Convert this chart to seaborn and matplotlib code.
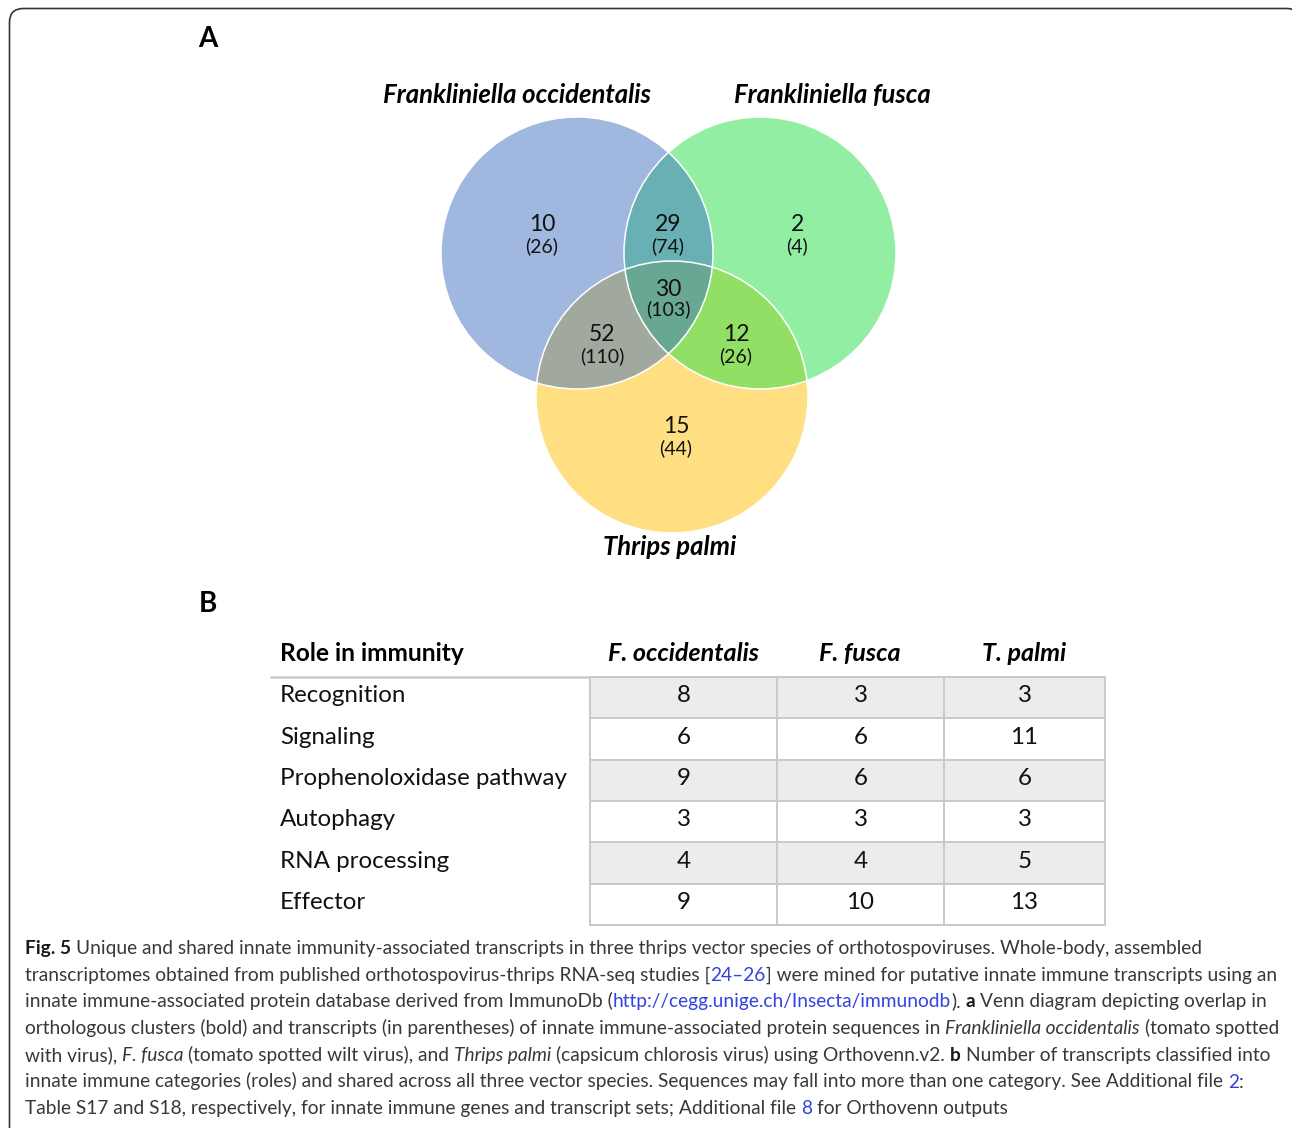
import numpy as np
import matplotlib
matplotlib.use('Agg')
import matplotlib.pyplot as plt
import seaborn as sns
from matplotlib import font_manager
from matplotlib.patches import Circle, Polygon, FancyBboxPatch, Rectangle
from matplotlib.colors import ListedColormap

# ---- venn data (A) ----
set_names = ['Frankliniella occidentalis', 'Frankliniella fusca', 'Thrips palmi']
region_sets = [(0,), (0, 1), (1,), (0, 1, 2), (0, 2), (1, 2), (2,)]
cluster_counts = [10, 29, 2, 30, 52, 12, 15]
transcript_counts = [26, 74, 4, 103, 110, 26, 44]

# ---- table data (B) ----
roles = ['Recognition', 'Signaling', 'Prophenoloxidase pathway', 'Autophagy',
         'RNA processing', 'Effector']
species_short = ['F. occidentalis', 'F. fusca', 'T. palmi']
f_occidentalis = [8, 6, 9, 3, 4, 9]
f_fusca = [3, 6, 6, 3, 4, 10]
t_palmi = [3, 11, 6, 3, 5, 13]

# ---- caption ----
caption_lines = [
    [('Fig. 5', 'b'), (' Unique and shared innate immunity-associated transcripts in three thrips vector species of orthotospoviruses. Whole-body, assembled', 'n')],
    [('transcriptomes obtained from published orthotospovirus-thrips RNA-seq studies [', 'n'), ('24–26', 'l'), ('] were mined for putative innate immune transcripts using an', 'n')],
    [('innate immune-associated protein database derived from ImmunoDb (', 'n'), ('http://cegg.unige.ch/Insecta/immunodb', 'l'), ('). ', 'n'), ('a', 'b'), (' Venn diagram depicting overlap in', 'n')],
    [('orthologous clusters (bold) and transcripts (in parentheses) of innate immune-associated protein sequences in ', 'n'), ('Frankliniella occidentalis', 'i'), (' (tomato spotted', 'n')],
    [('with virus), ', 'n'), ('F. fusca', 'i'), (' (tomato spotted wilt virus), and ', 'n'), ('Thrips palmi', 'i'), (' (capsicum chlorosis virus) using Orthovenn.v2. ', 'n'), ('b', 'b'), (' Number of transcripts classified into', 'n')],
    [('innate immune categories (roles) and shared across all three vector species. Sequences may fall into more than one category. See Additional file ', 'n'), ('2', 'l'), (':', 'n')],
    [('Table S17 and S18, respectively, for innate immune genes and transcript sets; Additional file ', 'n'), ('8', 'l'), (' for Orthovenn outputs', 'n')],
]
caption_right = [1195, 1262, 1268, 1277, 1258, 1240, 993]   # line ends in the reference

# ---- layout (pixels) ----
W, H = 1292, 1128
circle_xy = [(577, 253), (760, 253), (672, 397)]
R = 136
set_colors = ['#A0B7E0', '#91EEA2', '#FFDF82']
pair_colors = {(0, 1): '#68B0B4', (0, 2): '#A1A99E', (1, 2): '#91E065'}
triple_color = '#68A893'
region_xy = [(542, 231), (668, 231), (797, 231), (668, 296), (602, 341), (736, 341), (676, 433)]
paren_gap = [21, 21, 21, 19, 21, 21, 21]

sns.set_theme(style='white')
names = {f.name for f in font_manager.fontManager.ttflist}
FONT = 'Lato' if 'Lato' in names else 'DejaVu Sans'
FAM = [FONT, 'DejaVu Sans']
plt.rcParams['font.family'] = FAM

fig = plt.figure(figsize=(W / 100, H / 100), dpi=100)
fig.patch.set_facecolor('white')
ax = fig.add_axes([0, 0, 1, 1])
ax.set_xlim(0, W)
ax.set_ylim(H, 0)
ax.axis('off')
renderer = fig.canvas.get_renderer()


def text_w(t):
    return t.get_window_extent(renderer).width


def fit_text(x, y, s, width, ha='center', va='baseline', **kw):
    t = ax.text(x, y, s, ha=ha, va=va, fontsize=20, family=FAM, **kw)
    size = 20 * width / text_w(t)
    t.set_fontsize(size)
    return t, size


# frame (right and bottom edges run off the picture)
ax.add_patch(FancyBboxPatch((9.5, 8.5), 1291, 1150, boxstyle='round,pad=0,rounding_size=14',
                            fill=False, ec='#333333', lw=1.2))

# panel letters
ax.text(208, 47, 'A', ha='center', va='baseline', fontsize=20, fontweight='bold', color='black')
ax.text(208, 612, 'B', ha='center', va='baseline', fontsize=20, fontweight='bold', color='black')


# ---- venn ----
def region_poly(idx):
    th = np.linspace(0, 2 * np.pi, 1440, endpoint=False)
    pts = []
    for i in idx:
        cx, cy = circle_xy[i]
        p = np.c_[cx + R * np.cos(th), cy + R * np.sin(th)]
        ok = np.ones(len(p), bool)
        for j in idx:
            if j != i:
                ok &= np.hypot(p[:, 0] - circle_xy[j][0], p[:, 1] - circle_xy[j][1]) <= R
        pts.append(p[ok])
    pts = np.vstack(pts)
    c = pts.mean(0)
    return pts[np.argsort(np.arctan2(pts[:, 1] - c[1], pts[:, 0] - c[0]))]


for i in range(3):
    ax.add_patch(Circle(circle_xy[i], R, fc=set_colors[i], ec='none', zorder=1))
for pair, col in pair_colors.items():
    ax.add_patch(Polygon(region_poly(pair), closed=True, fc=col, ec='none', zorder=2))
ax.add_patch(Polygon(region_poly((0, 1, 2)), closed=True, fc=triple_color, ec='none', zorder=3))
for i in range(3):
    ax.add_patch(Circle(circle_xy[i], R, fc='none', ec='white', lw=1.1, zorder=4))

for (x, y), n, m, g in zip(region_xy, cluster_counts, transcript_counts, paren_gap):
    ax.text(x, y, str(n), ha='center', va='baseline', fontsize=16.5, color='#111111', zorder=5)
    ax.text(x, y + g, '(%d)' % m, ha='center', va='baseline', fontsize=14, color='#111111', zorder=5)

fit_text(517, 103, set_names[0], 268, fontweight='bold', fontstyle='italic', color='black')
fit_text(832, 103, set_names[1], 196, fontweight='bold', fontstyle='italic', color='black')
fit_text(670, 555, set_names[2], 133, fontweight='bold', fontstyle='italic', color='black')

# ---- table ----
col_edges = [590, 777, 944, 1105]
row_top, row_bot = 677, 925
row_h = (row_bot - row_top) / len(roles)

probe, tsize = fit_text(280, 0, roles[2], 287, ha='left')
probe.remove()

fit_text(280, 661, 'Role in immunity', 184, ha='left', fontweight='bold', color='black')
hx = [683, 860, 1024]
_, hsize = fit_text(hx[0], 661, species_short[0], 151, fontweight='bold', fontstyle='italic', color='black')
for k in (1, 2):
    ax.text(hx[k], 661, species_short[k], ha='center', va='baseline', fontsize=hsize,
            fontweight='bold', fontstyle='italic', color='black')

for i, r in enumerate(roles):
    ax.text(280, row_top + (i + 0.5) * row_h - 2, r, ha='left', va='center', fontsize=tsize, color='#111111')

ax.plot([270, 1105], [677, 677], color='#cacaca', lw=1.8, solid_capstyle='butt', zorder=2)

shade = (np.arange(len(roles)) % 2).reshape(-1, 1)
for k, vals in enumerate([f_occidentalis, f_fusca, t_palmi]):
    x0, x1 = col_edges[k], col_edges[k + 1]
    hax = fig.add_axes([x0 / W, 1 - row_bot / H, (x1 - x0) / W, (row_bot - row_top) / H])
    sns.heatmap(shade, annot=np.array(vals).reshape(-1, 1), fmt='d',
                cmap=ListedColormap(['#ececec', '#ffffff']), vmin=0, vmax=1, cbar=False,
                linewidths=1.4, linecolor='#cacaca', xticklabels=False, yticklabels=False,
                annot_kws=dict(fontsize=tsize, family=FAM, color='#111111'), ax=hax)
    hax.collections[0].set_clip_on(False)
    for t in hax.texts:
        t.set_y(t.get_position()[1] - 2 / row_h)


# ---- caption ----
def run_kw(st):
    if st == 'b':
        return dict(fontweight='bold', color='#1a1a1a')
    if st == 'i':
        return dict(fontstyle='italic', color='#383838')
    if st == 'l':
        return dict(color='#3342e0')
    return dict(color='#383838')


def space_w(size, kw):
    a = ax.text(0, 0, 'n n', fontsize=size, family=FAM, **kw)
    b = ax.text(0, 0, 'nn', fontsize=size, family=FAM, **kw)
    w = text_w(a) - text_w(b)
    a.remove()
    b.remove()
    return w


def put_runs(x, y, runs, size, keep=True):
    arts = []
    for s, st in runs:
        kw = run_kw(st)
        sp = space_w(size, kw)
        core = s.strip(' ')
        x += (len(s) - len(s.lstrip(' '))) * sp
        if core:
            t = ax.text(x, y, core, ha='left', va='baseline', fontsize=size, family=FAM, **kw)
            x += text_w(t)
            arts.append(t)
        x += (len(s) - len(s.rstrip(' '))) * sp
    if not keep:
        for t in arts:
            t.remove()
    return x


x_cap = 25
ratios = []
for runs, xr in zip(caption_lines[:6], caption_right[:6]):
    end = put_runs(x_cap, 0, runs, 12, keep=False)
    ratios.append((xr - x_cap) / (end - x_cap))
csize = 12 * float(np.median(ratios))
for i, runs in enumerate(caption_lines):
    put_runs(x_cap, 954 + 26.7 * i, runs, csize)

# keep the strip along the right edge clean
ax.add_patch(Rectangle((1284, 30), 10, 1100, fc='white', ec='none', zorder=20))

fig.savefig('out.png', dpi=100)
